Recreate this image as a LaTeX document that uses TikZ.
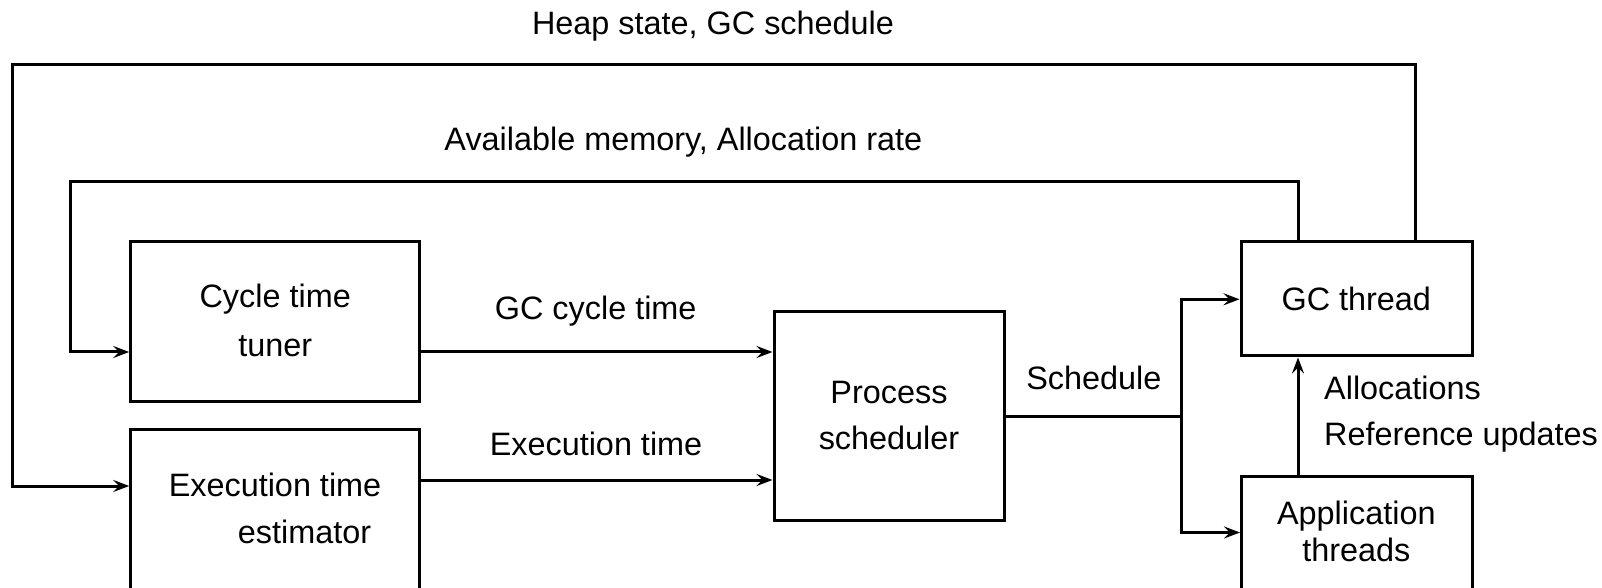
\documentclass[tikz,border=0pt]{standalone}
\usepackage{fontspec}
\setmainfont{Liberation Sans}
\usetikzlibrary{arrows.meta}
\begin{document}
\begin{tikzpicture}[x=0.5pt,y=-0.5pt, line width=1.5pt, line join=miter,
  box/.style={draw, rectangle, inner sep=0pt},
  lbl/.style={anchor=base, inner sep=0pt, font=\fontsize{16.2}{19}\selectfont},
  arr/.style={-{Stealth[length=8pt,width=6pt,inset=3pt]}}]
\useasboundingbox (0,0) rectangle (1602,588);
\clip (0,0) rectangle (1602,588);
% boxes
\node[box, minimum width=144.5pt, minimum height=80pt] (cycle) at (275.2,322) {};
\node[box, minimum width=144.5pt, minimum height=105.35pt] (exec) at (275.2,534.65) {};
\node[box, minimum width=115.25pt, minimum height=104pt] (process) at (889.25,416) {};
\node[box, minimum width=115.5pt, minimum height=57pt] (gc) at (1356.5,299) {};
\node[box, minimum width=115.25pt, minimum height=81.75pt] (app) at (1356.75,558.25) {};
% box texts
\node[lbl] (cycle-1) at (275.2,308) {Cycle time};
\node[lbl] (cycle-2) at (275.2,356.7) {tuner};
\node[lbl] (exec-1) at (275,496.7) {Execution time};
\node[lbl] (exec-2) at (304.5,543.3) {estimator};
\node[lbl] (proc-1) at (889,403.3) {Process};
\node[lbl] (proc-2) at (889,450) {scheduler};
\node[lbl] (gc-t) at (1356.3,311) {GC thread};
\node[lbl] (app-1) at (1356.3,524) {Application};
\node[lbl] (app-2) at (1356.3,561.7) {threads};
% connector labels
\node[lbl, anchor=base west] (alloc) at (1322.7,400) {Allocations};
\node[lbl, anchor=base west] (refupd) at (1322.7,445.5) {Reference updates};
\node[lbl] (l-cycle) at (595.7,320) {GC cycle time};
\node[lbl] (l-exec) at (596,455) {Execution time};
\node[lbl] (l-sched) at (1093.8,390) {Schedule};
\node[lbl] (l-heap) at (713,35) {Heap state, GC schedule};
\node[lbl] (l-avail) at (683.4,151) {Available memory, Allocation rate};
% helper coordinates
\coordinate (o1) at (1415,65);
\coordinate (o2) at (12,65);
\coordinate (o3) at (12,486);
\coordinate (i1) at (1298,181.7);
\coordinate (i2) at (70,181.7);
\coordinate (i3) at (70,352);
\coordinate (e1) at (0,480);
\coordinate (br) at (1181,416);
\coordinate (bt) at (1181,299.3);
\coordinate (bb) at (1181,532.5);
% connectors
\draw[arr] (gc.north -| o1) -- (o1) -- (o2) -- (o3) -- (exec.west |- o3);
\draw[arr] (gc.north -| i1) -- (i1) -- (i2) -- (i3) -- (cycle.west |- i3);
\draw[arr] (cycle.east |- i3) -- (process.west |- i3);
\draw[arr] (exec.east |- e1) -- (process.west |- e1);
\draw (process.east |- br) -- (br);
\draw[arr] (br) -- (bt) -- (gc.west |- bt);
\draw[arr] (br) -- (bb) -- (app.west |- bb);
\draw[arr] (app.north -| i1) -- (gc.south -| i1);
\end{tikzpicture}
\end{document}
